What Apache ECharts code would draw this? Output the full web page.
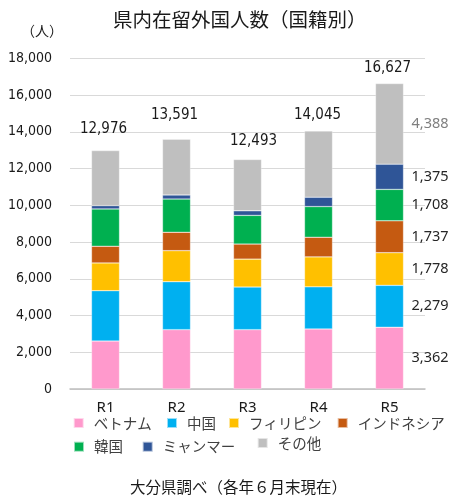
<!DOCTYPE html>
<html>
<head>
<meta charset="utf-8">
<script src="https://cdn.jsdelivr.net/npm/echarts@6/dist/echarts.min.js"></script>
<style>
  html, body { margin: 0; padding: 0; background: #fff; }
  #chart { width: 457px; height: 497px; }
</style>
</head>
<body>
<div id="chart"></div>
<script>
// Fiscal years (Reiwa 1–5)
const years = ['R1', 'R2', 'R3', 'R4', 'R5'];

// Residents by nationality, persons
const vietnam     = [2610, 3230, 3230, 3270, 3362];
const china       = [2740, 2610, 2320, 2290, 2279];
const philippines = [1510, 1690, 1520, 1630, 1778];
const indonesia   = [910, 1000, 820, 1070, 1737];
const korea       = [2030, 1810, 1560, 1670, 1708];
const myanmar     = [180, 220, 250, 510, 1375];
const others      = [2996, 3031, 2793, 3605, 4388];

const seriesNames  = ['ベトナム', '中国', 'フィリピン', 'インドネシア', '韓国', 'ミャンマー', 'その他'];
const seriesValues = [vietnam, china, philippines, indonesia, korea, myanmar, others];
const seriesColors = ['#FF99CC', '#00B0F0', '#FFC000', '#C55A11', '#00B050', '#2F5597', '#BFBFBF'];

// Y axis
const yMin = 0, yMax = 18000, yStep = 2000;

const totals = years.map((_, i) => seriesValues.reduce((s, arr) => s + arr[i], 0));
const fmt = v => v.toLocaleString('en-US');

const condensed = "'DejaVu Sans Condensed', 'Liberation Sans Narrow', sans-serif";
const jp = "'Noto Sans CJK JP', 'Noto Sans', sans-serif";

// hand-placed nudges for the total labels above each column
const totalOffsets = [[-2, -6], [-2, -9], [6, -3], [-1, 0], [-2, 0]];

const lastIdx = years.length - 1;
const series = seriesNames.map((name, si) => {
  const isTop = si === seriesNames.length - 1;
  const data = seriesValues[si].map((v, i) => {
    const item = { value: v };
    if (i === lastIdx) {
      item.label = {
        show: true,
        position: 'right',
        distance: 8,
        formatter: () => fmt(v),
        color: isTop ? '#7F7F7F' : '#262626',
        fontFamily: "'Noto Sans', sans-serif",
        fontSize: 14.5
      };
    }
    return item;
  });
  return {
    name,
    type: 'bar',
    stack: 'total',
    barWidth: 28,
    itemStyle: { color: seriesColors[si], borderColor: 'rgba(255,255,255,0.6)', borderWidth: 0.5 },
    emphasis: { disabled: true },
    data
  };
});

// Totals drawn as labels on an invisible series at the top of each stack
series.push({
  name: '合計',
  type: 'bar',
  stack: 'total',
  barWidth: 28,
  silent: true,
  itemStyle: { color: 'transparent' },
  data: totals.map((t, i) => ({
    value: 0,
    label: {
      show: true,
      position: 'top',
      distance: 8,
      offset: totalOffsets[i],
      formatter: () => fmt(t),
      color: '#1a1a1a',
      fontFamily: condensed,
      fontSize: 15
    }
  }))
});

// Legend entries, placed individually
const legendPos = [
  [72.7, 423], [166, 423], [228, 423], [336.7, 423],
  [73, 446.7], [141.7, 446.7], [256.7, 443]
];
const legends = seriesNames.map((name, i) => ({
  data: [name],
  left: legendPos[i][0],
  top: legendPos[i][1] - 8,
  padding: 0,
  icon: 'rect',
  itemWidth: 10,
  itemHeight: 10,
  selectedMode: false,
  textStyle: { color: '#404040', fontSize: 14.5, fontFamily: jp, lineHeight: 16, padding: [0, 0, 0, 5] }
}));

const chart = echarts.init(document.getElementById('chart'), null, { renderer: 'canvas' });
chart.setOption({
  animation: false,
  backgroundColor: '#fff',
  title: [
    {
      text: '県内在留外国人数（国籍別）',
      left: 113, top: 10, padding: 0,
      textStyle: { fontFamily: jp, fontSize: 19.5, fontWeight: 'normal', color: '#1a1a1a' }
    },
    {
      text: '（人）',
      left: 21, top: 24, padding: 0,
      textStyle: { fontFamily: jp, fontSize: 14, fontWeight: 'normal', color: '#1a1a1a' }
    },
    {
      text: '大分県調べ（各年６月末現在）',
      left: 130, top: 479, padding: 0,
      textStyle: { fontFamily: jp, fontSize: 15.5, fontWeight: 'normal', color: '#1a1a1a' }
    }
  ],
  legend: legends,
  grid: { left: 70, right: 32, top: 58.3, bottom: 108, containLabel: false },
  xAxis: {
    type: 'category',
    data: years,
    axisLine: { show: true, lineStyle: { color: '#BFBFBF', width: 1.5 } },
    axisTick: { show: false },
    axisLabel: { color: '#1a1a1a', fontSize: 15, fontFamily: "'Noto Sans', sans-serif", margin: 11 }
  },
  yAxis: {
    type: 'value',
    min: yMin, max: yMax, interval: yStep,
    axisLine: { show: false },
    axisTick: { show: false },
    splitLine: { lineStyle: { color: '#D9D9D9', width: 1 } },
    axisLabel: {
      color: '#1a1a1a', fontSize: 14, fontFamily: condensed, margin: 18,
      formatter: v => fmt(v)
    }
  },
  series
});
</script>
</body>
</html>
